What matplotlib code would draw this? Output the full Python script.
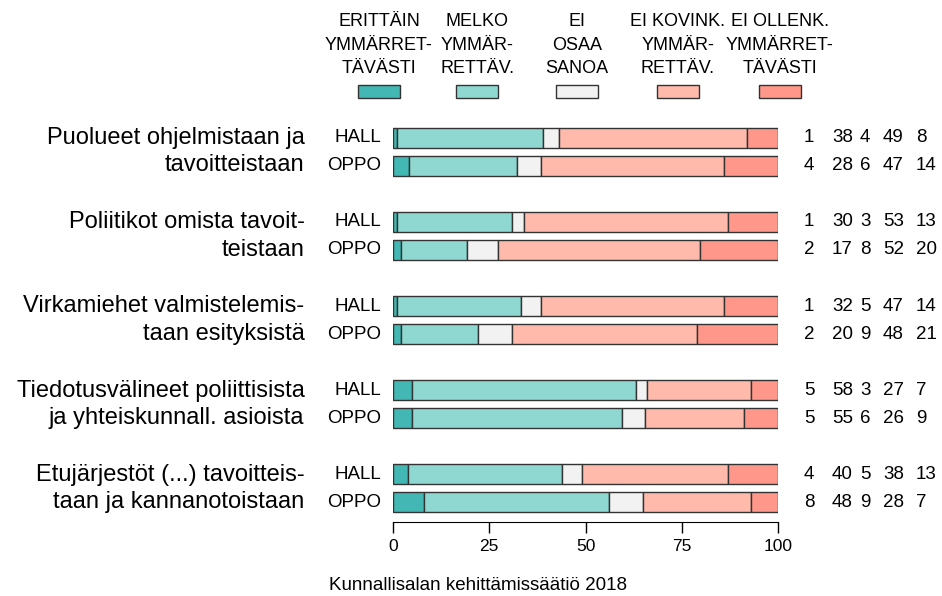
import matplotlib
matplotlib.use("Agg")
import matplotlib.pyplot as plt
import matplotlib.transforms as mtransforms
from matplotlib.patches import Rectangle
import numpy as np

plt.rcParams['font.family'] = ['Liberation Sans', 'DejaVu Sans']

# data
topics = ["Puolueet ohjelmistaan ja\ntavoitteistaan",
          "Poliitikot omista tavoit-\nteistaan",
          "Virkamiehet valmistelemis-\ntaan esityksistä",
          "Tiedotusvälineet poliittisista\nja yhteiskunnall. asioista",
          "Etujärjestöt (...) tavoitteis-\ntaan ja kannanotoistaan"]
groups = ["HALL", "OPPO"]
answers = ["ERITTÄIN\nYMMÄRRET-\nTÄVÄSTI", "MELKO\nYMMÄR-\nRETTÄV.", "EI\nOSAA\nSANOA",
           "EI KOVINK.\nYMMÄR-\nRETTÄV.", "EI OLLENK.\nYMMÄRRET-\nTÄVÄSTI"]
colors = ["#43B7B3", "#8FD8D2", "#F2F2F2", "#FFBAAC", "#FF978A"]
hall = [[1, 38, 4, 49, 8], [1, 30, 3, 53, 13], [1, 32, 5, 47, 14], [5, 58, 3, 27, 7], [4, 40, 5, 38, 13]]
oppo = [[4, 28, 6, 47, 14], [2, 17, 8, 52, 20], [2, 20, 9, 48, 21], [5, 55, 6, 26, 9], [8, 48, 9, 28, 7]]
ticks = [0, 25, 50, 75, 100]
source = "Kunnallisalan kehittämissäätiö 2018"

W, H = 942, 596
fig = plt.figure(figsize=(W / 100, H / 100), dpi=100)
ax = fig.add_axes([393 / W, 1 - 522 / H, 385 / W, 402 / H])
trans = mtransforms.blended_transform_factory(fig.transFigure, ax.transData)

bh = 0.72
col_x = [804, 832, 860, 883, 916]
for g in range(len(topics)):
    for k, rows in enumerate([hall, oppo]):
        y = g * 3 + k
        vals = np.array(rows[g], dtype=float)
        pct = vals / vals.sum() * 100
        left = np.concatenate([[0], np.cumsum(pct)[:-1]])
        ax.barh(y, pct, left=left, height=bh, color=colors, edgecolor="#333333", linewidth=1.0)
        ax.text(-3, y, groups[k], ha="right", va="center", fontsize=13.5)
        for xp, v in zip(col_x, rows[g]):
            ax.text(xp / W, y, str(v), transform=trans, ha="left", va="center",
                    fontsize=13.5, clip_on=False)
    ax.text(-23, g * 3 + 0.5, topics[g], ha="right", va="center", fontsize=17, linespacing=1.3)

ax.set_xlim(0, 100)
ax.set_ylim(13.71, -0.64)
ax.set_yticks([])
ax.set_xticks(ticks)
ax.tick_params(axis="x", length=8, width=1, labelsize=12.5, pad=4)
for s in ["top", "right", "left"]:
    ax.spines[s].set_visible(False)
ax.spines["bottom"].set_bounds(0, 100)

# legend
centers = [379, 477, 577, 678, 780]
for cx, lab, c in zip(centers, answers, colors):
    fig.text(cx / W, 1 - 45 / H, lab, ha="center", va="center", fontsize=13, linespacing=1.48)
    fig.patches.append(Rectangle(((cx - 21) / W, 1 - 98 / H), 42 / W, 13 / H,
                                 transform=fig.transFigure, facecolor=c,
                                 edgecolor="#333333", linewidth=1.0))

fig.text(478 / W, 1 - 590 / H, source, ha="center", va="baseline", fontsize=13.5)

fig.savefig("out.png", dpi=100)
